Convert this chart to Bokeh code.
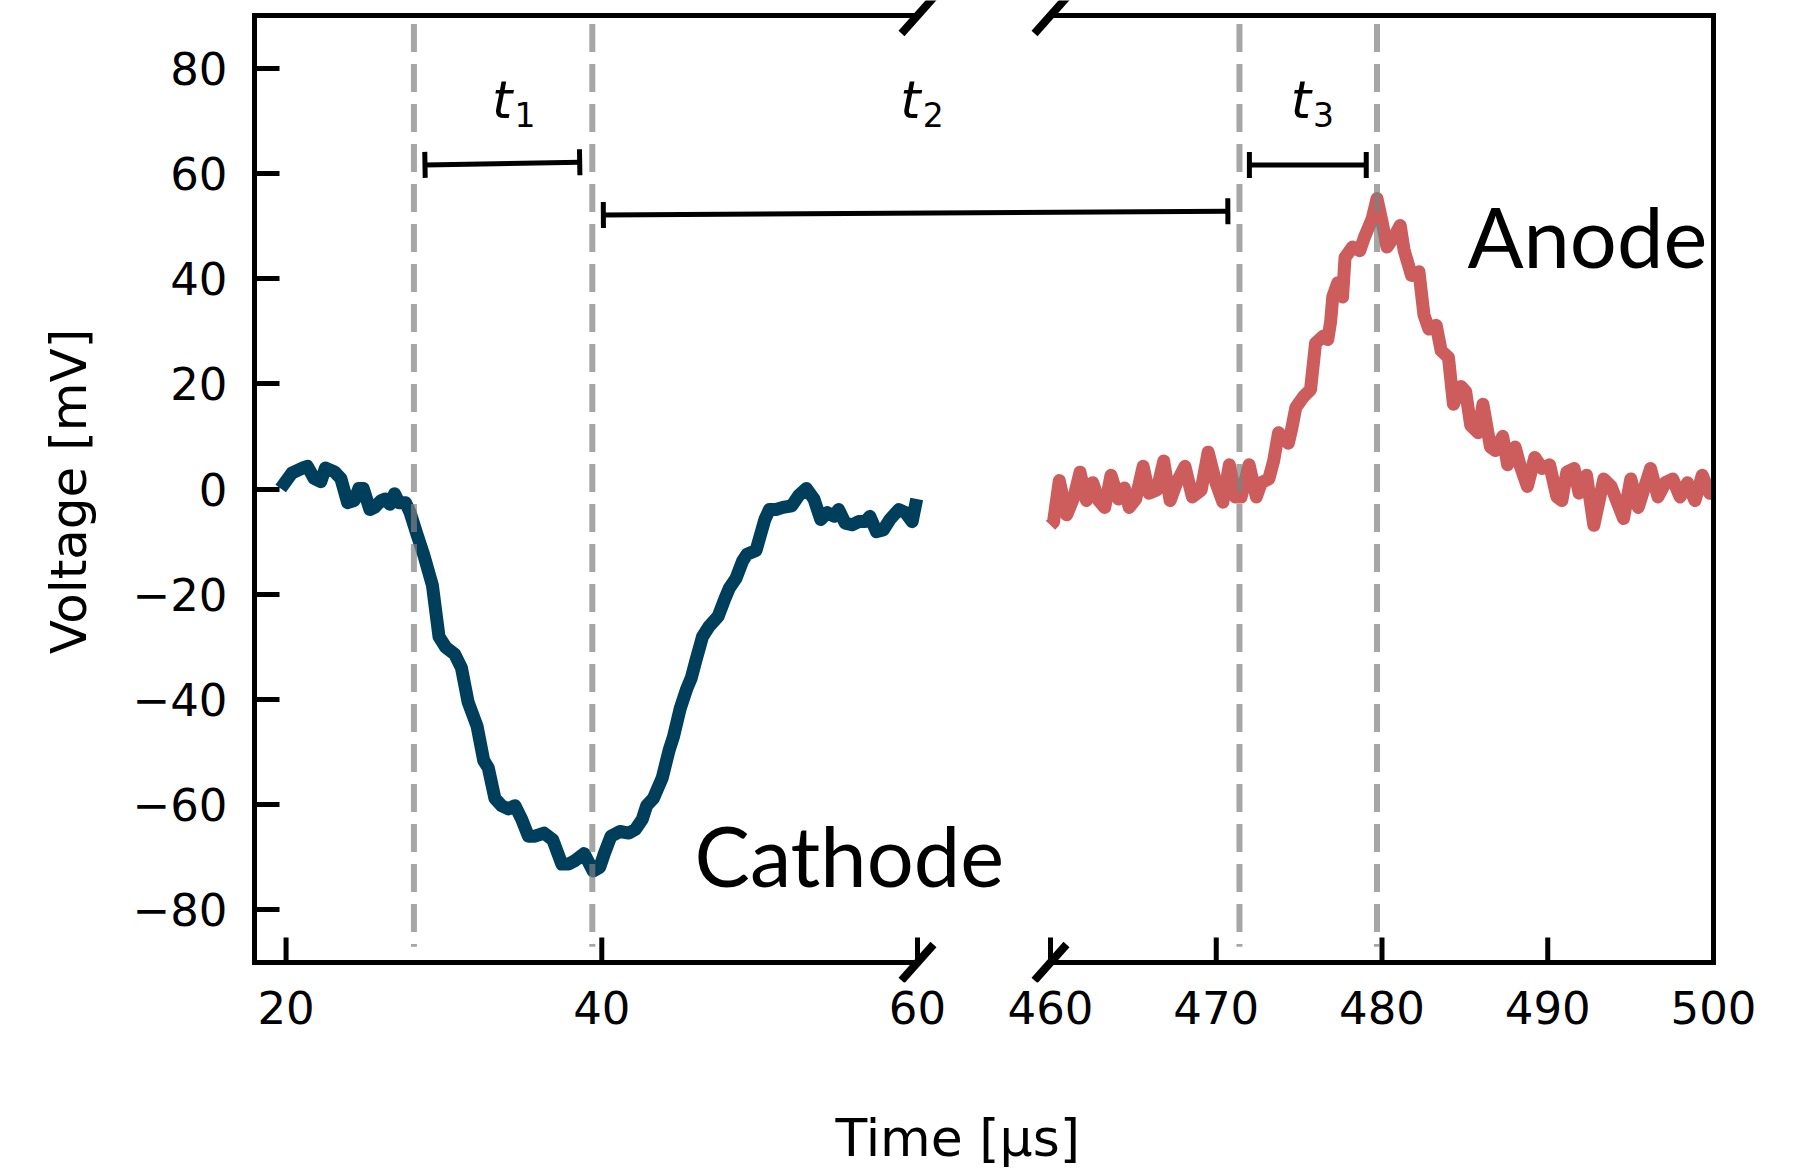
from bokeh.plotting import figure
from bokeh.models import Range1d, LinearAxis, FixedTicker, Arrow, TeeHead, Title
from bokeh.embed import file_html
from bokeh.resources import INLINE
from bokeh.core.properties import value

# ---------------- data ----------------
cathode_t = [19.66, 20.36, 21.07, 21.35, 21.78, 22.2, 22.49, 23.05, 23.47, 23.9, 24.32, 24.61,
             24.89, 25.31, 25.6, 26.02, 26.3, 26.58, 26.87, 27.15, 27.57, 27.86, 28.28, 28.71,
             29.27, 29.69, 30.12, 30.68, 31.11, 31.53, 32.1, 32.52, 32.81, 33.23, 33.65, 34.08,
             34.5, 34.93, 35.35, 35.77, 36.34, 36.9, 37.47, 37.89, 38.32, 38.88, 39.45, 39.87,
             40.16, 40.58, 41.15, 41.71, 42.13, 42.56, 42.84, 43.27, 43.83, 44.26, 44.54, 44.96,
             45.39, 45.67, 45.95, 46.38, 46.8, 47.37, 47.79, 48.07, 48.5, 48.92, 49.2, 49.77,
             50.33, 50.62, 51.04, 51.47, 52.03, 52.46, 52.96, 53.44, 53.87, 54.29, 54.72, 55.0,
             55.42, 55.85, 56.27, 56.7, 56.98, 57.4, 57.83, 58.25, 58.82, 59.24, 59.66, 59.95]
cathode_v = [0.1, 3.0, 4.0, 4.3, 2.0, 1.4, 4.0, 3.3, 2.0, -2.6, -2.2, 0.1,
             0.1, -3.9, -3.5, -2.2, -1.9, -2.9, -0.9, -2.6, -2.6, -4.5, -8.5, -12.4,
             -18.3, -28.1, -30.1, -31.4, -34.0, -40.5, -45.1, -51.6, -53.0, -58.8, -60.2, -60.8,
             -60.2, -62.8, -66.0, -66.0, -65.4, -66.7, -71.3, -71.3, -70.6, -69.3, -72.6, -71.9,
             -69.3, -66.0, -65.1, -65.4, -64.7, -62.8, -60.2, -58.8, -54.9, -49.7, -47.1, -41.8,
             -37.9, -35.9, -32.7, -28.1, -26.1, -24.2, -20.9, -18.9, -17.0, -13.7, -12.4, -11.7,
             -5.8, -3.9, -3.9, -3.5, -3.2, -1.3, 0.1, -1.9, -5.8, -4.5, -5.2, -3.9,
             -6.5, -6.8, -6.2, -6.2, -5.2, -8.1, -7.8, -5.8, -3.9, -4.5, -6.2, -1.9]

anode_t = [460.0, 460.18, 460.53, 460.98, 461.42, 461.78, 462.17, 462.55, 462.91, 463.27, 463.65,
           464.1, 464.46, 464.75, 465.14, 465.59, 465.94, 466.42, 466.83, 467.22, 467.61, 468.11,
           468.56, 469.09, 469.51, 469.98, 470.4, 470.79, 471.17, 471.5, 471.98, 472.42, 472.72,
           473.17, 473.46, 473.76, 474.35, 474.55, 474.8, 475.25, 475.69, 475.99, 476.43, 476.73,
           476.9, 477.03, 477.33, 477.62, 477.77, 478.22, 478.66, 478.96, 479.41, 479.7, 480.0,
           480.3, 480.74, 481.1, 481.34, 481.78, 482.23, 482.53, 482.83, 483.27, 483.57, 484.01,
           484.31, 484.76, 485.05, 485.35, 485.8, 486.09, 486.54, 486.84, 487.28, 487.58, 488.03,
           488.32, 488.77, 489.22, 489.66, 490.11, 490.55, 490.85, 491.15, 491.59, 491.89, 492.34,
           492.78, 493.38, 493.82, 494.57, 495.01, 495.46, 496.2, 496.65, 497.09, 497.54, 497.98,
           498.43, 498.88, 499.32, 499.77, 500.0]
anode_v = [-6.9, -6.3, 1.6, -4.9, -1.5, 3.2, -2.2, 1.2, -2.2, -3.5, 2.6,
           -1.9, 0.2, -3.5, -1.9, 4.3, -0.8, -0.2, 5.3, -2.2, 1.2, 4.3,
           -1.5, -0.2, 7.0, 1.2, -2.5, 4.6, -1.5, -1.5, 4.6, -1.5, 1.2,
           1.9, 5.3, 10.7, 8.7, 11.4, 15.5, 17.5, 18.9, 27.7, 29.0, 28.4,
           31.8, 36.5, 39.2, 36.5, 44.0, 46.0, 45.3, 48.0, 51.4, 55.2, 50.8,
           46.0, 48.0, 50.1, 45.3, 40.6, 41.3, 33.1, 30.4, 31.1, 26.3, 25.0,
           16.1, 19.5, 18.5, 12.1, 10.7, 16.1, 8.0, 7.3, 10.0, 4.6, 8.0,
           4.6, 0.5, 6.0, 3.9, 4.6, -1.5, -2.2, 3.2, 3.9, -0.8, 2.6,
           -6.9, 1.9, 0.5, -5.6, 1.9, -3.5, 3.9, -1.5, 1.2, 1.9, -1.5,
           1.2, -2.2, 2.6, -0.8, 0.5]

left_xlim = (18, 60)
right_xlim = (460, 500)
y_lim = (-90, 90)
y_ticks = [-80, -60, -40, -20, 0, 20, 40, 60, 80]
left_ticks = [20, 40, 60]
right_ticks = [460, 470, 480, 490, 500]

cathode_marks = [28.1, 39.4]      # dashed guide lines, left panel
anode_marks = [471.4, 479.7]      # dashed guide lines, right panel

# interval bars  (x_start, x_end, y_start, y_end)
t1_bar = (28.8, 38.6, 61.6, 62.1)
t2_bar = (40.1, 470.7, 52.1, 52.8)   # starts in left panel, ends in right panel
t3_bar = (472.0, 479.05, 61.6, 61.6)
t_names = ["1", "2", "3"]

# ---------------- layout ----------------
PANEL_W, AXES_H = 663, 947          # px size of each axes box
LEFT, RIGHT_PAD = 254, 50
TOP_PAD, BOTTOM_PAD = 15, 20         # frame extends beyond the axes box (room for break marks)
FRAME_W = 1459
FRAME_H = AXES_H + TOP_PAD + BOTTOM_PAD
sx_l = PANEL_W / (left_xlim[1] - left_xlim[0])
sx_r = PANEL_W / (right_xlim[1] - right_xlim[0])
sy = AXES_H / (y_lim[1] - y_lim[0])
left_end = left_xlim[0] + FRAME_W / sx_l
right_start = right_xlim[1] - FRAME_W / sx_r


def to_left(t):
    """right-panel time -> left-range units (same frame pixel)"""
    return round(left_xlim[0] + (t - right_start) * sx_r / sx_l, 6)


p = figure(frame_width=FRAME_W, frame_height=FRAME_H,
           x_range=Range1d(left_xlim[0], left_end),
           y_range=Range1d(y_lim[0] - BOTTOM_PAD / sy, y_lim[1] + TOP_PAD / sy),
           x_axis_location=None, y_axis_location="left",
           output_backend="svg", toolbar_location=None,
           min_border_left=LEFT, min_border_right=RIGHT_PAD, min_border_top=0, min_border_bottom=150,
           outline_line_color=None, background_fill_color="white", border_fill_color="white")
p.extra_x_ranges = {"right": Range1d(right_start, right_xlim[1])}
for g in p.grid:
    g.visible = False

TICK_FONT = "DejaVu Sans"
SPINE_W = 5

# y axis (left spine)
ya = p.yaxis[0]
ya.bounds = y_lim
ya.ticker = FixedTicker(ticks=y_ticks)
ya.major_label_overrides = {v: str(v).replace("-", "\u2212") for v in y_ticks}
ya.major_tick_in = 25
ya.major_tick_out = 0
ya.minor_tick_in = 0
ya.minor_tick_out = 0
ya.major_tick_line_width = SPINE_W
ya.axis_line_width = SPINE_W
ya.axis_line_cap = "square"
ya.major_label_text_font = TICK_FONT
ya.major_label_text_font_size = "45px"
ya.major_label_text_color = "black"
ya.major_label_standoff = 27
ya.axis_label = "Voltage [mV]"
ya.axis_label_text_font = TICK_FONT
ya.axis_label_text_font_size = "50px"
ya.axis_label_text_font_style = "normal"
ya.axis_label_text_color = "black"
ya.axis_label_standoff = 32

# right spine
p.add_layout(LinearAxis(ticker=FixedTicker(ticks=[]), bounds=y_lim, major_tick_in=0, major_tick_out=0,
                        minor_tick_in=0, minor_tick_out=0, major_label_standoff=0,
                        major_label_text_font_size="0px", axis_line_width=SPINE_W,
                        axis_line_color="black", axis_line_cap="square"), "right")

# x tick labels (tick marks are drawn at the axes box edge below)
xt_pos = [float(t) for t in left_ticks] + [to_left(t) for t in right_ticks]
xt_lab = [str(t) for t in left_ticks + right_ticks]
xa = LinearAxis(ticker=FixedTicker(ticks=xt_pos),
                major_label_overrides=dict(zip(xt_pos, xt_lab)),
                axis_line_color=None, major_tick_line_color=None, minor_tick_line_color=None,
                major_tick_in=0, major_tick_out=0, minor_tick_in=0, minor_tick_out=0,
                major_label_text_font=TICK_FONT, major_label_text_font_size="45px",
                major_label_text_color="black", major_label_standoff=8)
p.add_layout(xa, "below")
# blank spacer between tick labels and the axis title (one invisible tick at the frame edge)
SPACER_TICK = float(left_xlim[0])
p.add_layout(LinearAxis(ticker=FixedTicker(ticks=[SPACER_TICK]), axis_line_color=None,
                        major_tick_line_color="white", minor_tick_line_color=None,
                        major_tick_in=0, major_tick_out=79, minor_tick_in=0, minor_tick_out=0,
                        major_label_standoff=0, major_label_text_font_size="0px",
                        major_label_overrides={SPACER_TICK: ""}), "below")
p.add_layout(Title(text="Time [\u00b5s]", align="left", offset=581, standoff=0,
                   vertical_align="bottom", text_font=TICK_FONT, text_font_size="52px",
                   text_font_style="normal", text_color="black"), "below")

# top / bottom spines of both panels
SP = dict(line_width=SPINE_W, line_color="black", line_cap="square")
p.segment(x0=[left_xlim[0]] * 2, x1=[left_xlim[1]] * 2, y0=list(y_lim), y1=list(y_lim), **SP)
p.segment(x0=[right_xlim[0]] * 2, x1=[right_xlim[1]] * 2, y0=list(y_lim), y1=list(y_lim),
          x_range_name="right", **SP)

# inward x tick marks
TICK_LEN = 25 / sy
p.segment(x0=left_ticks, x1=left_ticks, y0=[y_lim[0]] * len(left_ticks),
          y1=[y_lim[0] + TICK_LEN] * len(left_ticks), line_width=SPINE_W, line_color="black")
p.segment(x0=right_ticks, x1=right_ticks, y0=[y_lim[0]] * len(right_ticks),
          y1=[y_lim[0] + TICK_LEN] * len(right_ticks), line_width=SPINE_W, line_color="black",
          x_range_name="right")

# ---------------- data lines ----------------
p.line(cathode_t, cathode_v, line_color="#003f5c", line_width=13, line_join="round")
p.line(anode_t, anode_v, x_range_name="right", line_color="#cd5c5c", line_width=13,
       line_join="round")

# dashed guides
DASH_TOP, DASH_BOTTOM = 88.4, -87.0
p.segment(x0=cathode_marks, y0=[DASH_TOP] * 2, x1=cathode_marks, y1=[DASH_BOTTOM] * 2,
          line_color="#808080", line_alpha=0.7, line_width=6, line_dash="28 12")
p.segment(x0=anode_marks, y0=[DASH_TOP] * 2, x1=anode_marks, y1=[DASH_BOTTOM] * 2,
          x_range_name="right", line_color="#808080", line_alpha=0.7, line_width=6,
          line_dash="28 12")


# interval bars
def tee():
    return TeeHead(size=26, line_width=5, line_color="black")


p.add_layout(Arrow(start=tee(), end=tee(), x_start=t1_bar[0], x_end=t1_bar[1],
                   y_start=t1_bar[2], y_end=t1_bar[3], line_width=5, line_color="black"))
p.add_layout(Arrow(start=tee(), end=tee(), x_start=t2_bar[0], x_end=to_left(t2_bar[1]),
                   y_start=t2_bar[2], y_end=t2_bar[3], line_width=5, line_color="black"))
p.add_layout(Arrow(start=tee(), end=tee(), x_start=t3_bar[0], x_end=t3_bar[1],
                   y_start=t3_bar[2], y_end=t3_bar[3], x_range_name="right",
                   line_width=5, line_color="black"))

# interval labels  t_1, t_2, t_3
T_Y = 70.0
t_anchor_left = [34.34, 60.2]
t_anchor_right = [475.72]
T_STYLE = dict(text_font=value(TICK_FONT), text_font_style="italic", text_font_size="52px",
               text_align="right", text_baseline="alphabetic", text_color="black", y_offset=-21)
S_STYLE = dict(text_font=value(TICK_FONT), text_font_size="33px", text_align="left",
               text_baseline="alphabetic", text_color="black", y_offset=-6, x_offset=2)
p.text(x=t_anchor_left, y=[T_Y] * 2, text=["t", "t"], **T_STYLE)
p.text(x=t_anchor_left, y=[T_Y] * 2, text=t_names[:2], **S_STYLE)
p.text(x=t_anchor_right, y=[T_Y], text=["t"], x_range_name="right", **T_STYLE)
p.text(x=t_anchor_right, y=[T_Y], text=t_names[2:], x_range_name="right", **S_STYLE)

# series names
N_STYLE = dict(text_font=value("Lato"), text_font_size="83px", text_align="left",
               text_baseline="alphabetic", text_color="black", y_offset=-33)
p.text(x=[45.87], y=[-75.9], text=["Cathode"], **N_STYLE)
p.text(x=[485.16], y=[41.9], text=["Anode"], x_range_name="right", **N_STYLE)

# axis-break marks (slashes centred on the inner panel corners)
dxl, dxr, dy = 16 / sx_l, 16 / sx_r, 18 / sy
BRK = dict(line_width=8, line_color="black")
p.segment(x0=[left_xlim[1] - dxl] * 2, x1=[left_xlim[1] + dxl] * 2,
          y0=[y - dy for y in y_lim], y1=[y + dy for y in y_lim], **BRK)
p.segment(x0=[right_xlim[0] - dxr] * 2, x1=[right_xlim[0] + dxr] * 2,
          y0=[y - dy for y in y_lim], y1=[y + dy for y in y_lim], x_range_name="right", **BRK)

open("out.html", "w").write(file_html(p, INLINE))
